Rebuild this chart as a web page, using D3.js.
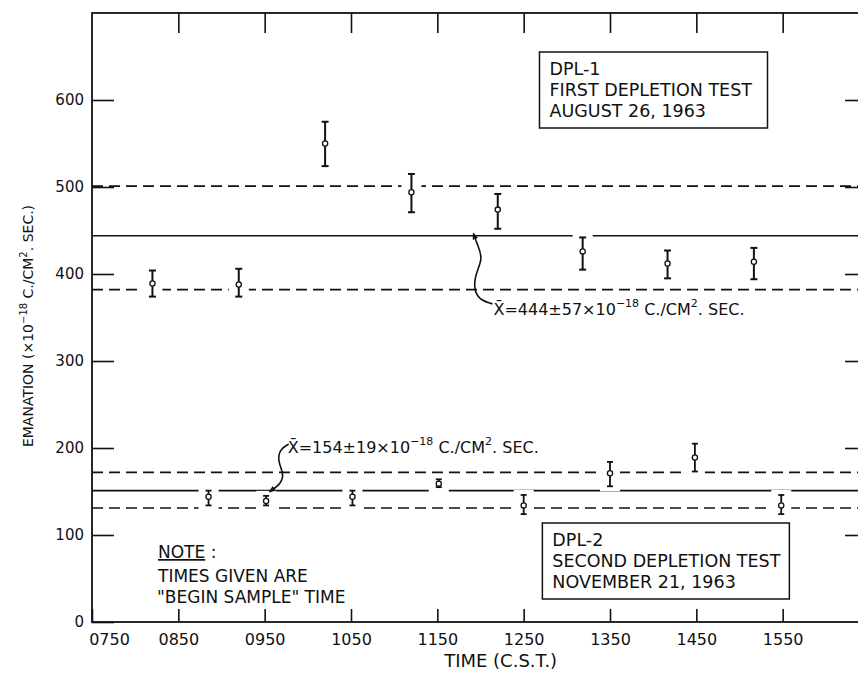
<!DOCTYPE html>
<html>
<head>
<meta charset="utf-8">
<script src="https://cdn.jsdelivr.net/npm/d3@7"></script>
<style>
  body { margin: 0; background: #fff; }
  svg { display: block; }
  text { font-family: "DejaVu Sans", sans-serif; fill: #111; }
  .axis path.domain { display: none; }
  .axis line { stroke: #111; stroke-width: 1.6; }
</style>
</head>
<body>
<div id="chart"></div>
<script>
// tick labels
const timeTicks = ["0750", "0850", "0950", "1050", "1150", "1250", "1350", "1450", "1550"];
const valueTicks = [0, 100, 200, 300, 400, 500, 600];

// DPL-1, first depletion test (Aug 26, 1963)
const dpl1Times = ["0832", "0932", "1032", "1132", "1232", "1331", "1430", "1530"];
const dpl1Values = [389, 388, 550, 494, 474, 426, 412, 414];
const dpl1Low = [374, 374, 524, 471, 452, 405, 395, 394];
const dpl1High = [404, 406, 575, 515, 492, 442, 427, 430];
const dpl1Stats = [382, 444, 501]; // lower, mean, upper

// DPL-2, second depletion test (Nov 21, 1963)
const dpl2Times = ["0911", "0951", "1051", "1151", "1250", "1350", "1449", "1549"];
const dpl2Values = [144, 139, 144, 159, 134, 171, 189, 134];
const dpl2Low = [134, 134, 134, 155, 124, 156, 173, 124];
const dpl2High = [151, 145, 151, 164, 146, 184, 205, 146];
const dpl2Stats = [131, 151, 172];

const toMin = (t) => +t.slice(0, 2) * 60 + +t.slice(2);

const width = 858, height = 677;
const margin = { left: 92, top: 13, right: 869, bottom: 622 };

const x = d3.scaleLinear().domain([toMin("0750"), toMin("1650")]).range([margin.left, margin.right]);
const y = d3.scaleLinear().domain([0, 700]).range([margin.bottom, margin.top]);

const svg = d3.select("#chart").append("svg")
    .attr("width", width)
    .attr("height", height);

svg.append("defs").append("marker")
    .attr("id", "head")
    .attr("viewBox", "0 0 10 10")
    .attr("refX", 8).attr("refY", 5)
    .attr("markerWidth", 7).attr("markerHeight", 7)
    .attr("markerUnits", "userSpaceOnUse")
    .attr("orient", "auto")
    .append("path").attr("d", "M0,1 L10,5 L0,9 Z").attr("fill", "#111");

// frame
svg.append("rect")
    .attr("x", margin.left).attr("y", margin.top)
    .attr("width", margin.right - margin.left).attr("height", margin.bottom - margin.top)
    .attr("fill", "none").attr("stroke", "#111").attr("stroke-width", 1.8);

// axes (ticks point inward)
const bAxis = svg.append("g").attr("class", "axis")
    .attr("transform", "translate(0," + margin.bottom + ")")
    .call(d3.axisBottom(x).tickValues(timeTicks.map(toMin)).tickSize(-13).tickPadding(12)
        .tickFormat((d, i) => timeTicks[i]));
bAxis.selectAll("text").style("font-size", "16px").attr("fill", "#111");
bAxis.select(".tick text").attr("dx", 17); // first label sits right of the corner

svg.append("g").attr("class", "axis")
    .attr("transform", "translate(0," + margin.top + ")")
    .call(d3.axisTop(x).tickValues(timeTicks.slice(1).map(toMin)).tickSize(-20).tickFormat(""));

const lAxis = svg.append("g").attr("class", "axis")
    .attr("transform", "translate(" + margin.left + ",0)")
    .call(d3.axisLeft(y).tickValues(valueTicks).tickSize(-22).tickPadding(8));
lAxis.selectAll("text").style("font-size", "15px").attr("fill", "#111");

svg.append("g").attr("class", "axis")
    .attr("transform", "translate(" + margin.right + ",0)")
    .call(d3.axisRight(y).tickValues(valueTicks.slice(1)).tickSize(-24).tickFormat(""));

// mean and +/- lines
function statLines(stats) {
    stats.forEach((v, i) => {
        svg.append("line")
            .attr("x1", margin.left).attr("x2", margin.right)
            .attr("y1", y(v)).attr("y2", y(v))
            .attr("stroke", "#111")
            .attr("stroke-width", 1.6)
            .attr("stroke-dasharray", i === 1 ? null : "11,6");
    });
}
statLines(dpl1Stats);
statLines(dpl2Stats);

// error bars
function errorBars(times, vals, lo, hi, cap, sw) {
    const pts = times.map((t, i) => ({ t: toMin(t), v: vals[i], lo: lo[i], hi: hi[i] }));
    const g = svg.append("g");
    // white halo so the lines break around the bars
    g.selectAll("rect.halo").data(pts).join("rect")
        .attr("x", (d) => x(d.t) - 10)
        .attr("y", (d) => y(d.hi) - 5)
        .attr("width", 20)
        .attr("height", (d) => y(d.lo) - y(d.hi) + 10)
        .attr("fill", "#fff");
    g.selectAll("line.v").data(pts).join("line")
        .attr("x1", (d) => x(d.t)).attr("x2", (d) => x(d.t))
        .attr("y1", (d) => y(d.hi)).attr("y2", (d) => y(d.lo))
        .attr("stroke", "#111").attr("stroke-width", sw);
    ["hi", "lo"].forEach((k) => {
        g.selectAll("line." + k).data(pts).join("line").attr("class", k)
            .attr("x1", (d) => x(d.t) - cap).attr("x2", (d) => x(d.t) + cap)
            .attr("y1", (d) => y(d[k])).attr("y2", (d) => y(d[k]))
            .attr("stroke", "#111").attr("stroke-width", sw);
    });
    g.selectAll("circle").data(pts).join("circle")
        .attr("cx", (d) => x(d.t)).attr("cy", (d) => y(d.v))
        .attr("r", 2.6)
        .attr("fill", "#fff").attr("stroke", "#111").attr("stroke-width", 1.3);
}
errorBars(dpl1Times, dpl1Values, dpl1Low, dpl1High, 3.5, 2);
errorBars(dpl2Times, dpl2Values, dpl2Low, dpl2High, 3, 1.8);

// boxed legends
function box(x0, y0, w, h, lines) {
    svg.append("rect")
        .attr("x", x0).attr("y", y0).attr("width", w).attr("height", h)
        .attr("fill", "#fff").attr("stroke", "#111").attr("stroke-width", 1.5);
    lines.forEach((s, i) => {
        svg.append("text")
            .attr("x", x0 + 10).attr("y", y0 + 23 + i * 21)
            .style("font-size", "17.5px")
            .text(s);
    });
}
box(x(toMin("1301")), 52, 228, 76, ["DPL-1", "FIRST DEPLETION TEST", "AUGUST 26, 1963"]);
box(x(toMin("1303")), 523, 247, 76, ["DPL-2", "SECOND DEPLETION TEST", "NOVEMBER 21, 1963"]);

// mean annotations with curved arrows
function meanLabel(tx, ty, mean, pm) {
    const t = svg.append("text").attr("x", tx).attr("y", ty).style("font-size", "16px");
    t.append("tspan").text("X\u0304=" + mean + "\u00b1" + pm + "\u00d710");
    t.append("tspan").attr("dy", -8).style("font-size", "11px").text("\u221218");
    t.append("tspan").attr("dy", 8).text(" C./CM");
    t.append("tspan").attr("dy", -8).style("font-size", "11px").text("2");
    t.append("tspan").attr("dy", 8).text(". SEC.");
}
const a1 = [x(toMin("1229")), y(353)];
meanLabel(a1[0], a1[1], 444, 57);
svg.append("path")
    .attr("d", d3.line().curve(d3.curveBasis)([
        [a1[0] - 1, a1[1] - 11], [a1[0] - 18, a1[1] - 16], [a1[0] - 20, a1[1] - 38],
        [a1[0] - 10, a1[1] - 56], [a1[0] - 16, a1[1] - 70], [a1[0] - 20, y(dpl1Stats[1]) - 2]
    ]))
    .attr("fill", "none").attr("stroke", "#111").attr("stroke-width", 1.6)
    .attr("marker-end", "url(#head)");

const a2 = [x(toMin("1006")), y(194)];
meanLabel(a2[0], a2[1], 154, 19);
svg.append("path")
    .attr("d", d3.line().curve(d3.curveBasis)([
        [a2[0] + 1, a2[1] - 9], [a2[0] - 8, a2[1] - 4], [a2[0] - 10, a2[1] + 8],
        [a2[0] - 4, a2[1] + 20], [a2[0] - 6, a2[1] + 30], [a2[0] - 18, y(dpl2Stats[1]) + 1]
    ]))
    .attr("fill", "none").attr("stroke", "#111").attr("stroke-width", 1.6)
    .attr("marker-end", "url(#head)");

// note
const note = svg.append("text").attr("x", 158).attr("y", 558).style("font-size", "17px");
note.append("tspan").style("text-decoration", "underline").text("NOTE");
note.append("tspan").text(" :");
svg.append("text").attr("x", 158).attr("y", 582).style("font-size", "17px").text("TIMES GIVEN ARE");
svg.append("text").attr("x", 157).attr("y", 603).style("font-size", "17px").text("\"BEGIN SAMPLE\" TIME");

// axis titles
svg.append("text")
    .attr("x", x(toMin("1234"))).attr("y", 667)
    .style("text-anchor", "middle").style("font-size", "18px")
    .text("TIME (C.S.T.)");

const yl = svg.append("text")
    .attr("transform", "translate(33,326) rotate(-90)")
    .style("text-anchor", "middle").style("font-size", "14px");
yl.append("tspan").text("EMANATION (\u00d710");
yl.append("tspan").attr("dy", -6).style("font-size", "10px").text("\u221218");
yl.append("tspan").attr("dy", 6).text(" C./CM");
yl.append("tspan").attr("dy", -6).style("font-size", "10px").text("2");
yl.append("tspan").attr("dy", 6).text(". SEC.)");
</script>
</body>
</html>
